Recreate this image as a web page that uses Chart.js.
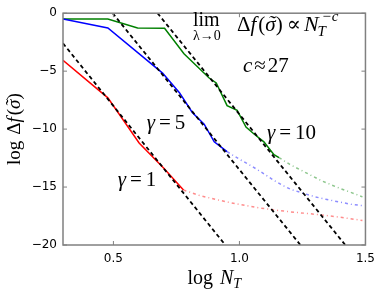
<!DOCTYPE html>
<html>
<head>
<meta charset="utf-8">
<script src="https://cdn.jsdelivr.net/npm/chart.js@4/dist/chart.umd.min.js"></script>
<style>
  html, body { margin: 0; padding: 0; background: #fff; }
  #chart { display: block; }
</style>
</head>
<body>
<canvas id="chart" width="382" height="291"></canvas>
<script>
// tick labels
const xTicks = [0.5, 1.0, 1.5]
const yTicks = [0, -5, -10, -15, -20]

// gamma = 1 (red)
const redX = [0.3, 0.478, 0.602, 0.699, 0.778]
const redY = [-4.07, -7.3, -11.2, -13.35, -15.25]
const redTailX = [0.778, 0.845, 0.903, 0.954, 1.0, 1.041, 1.079, 1.114, 1.146, 1.176, 1.204, 1.255, 1.301, 1.342, 1.398, 1.447, 1.488]
const redTailY = [-15.25, -15.75, -16.05, -16.3, -16.5, -16.65, -16.8, -16.9, -17.0, -17.07, -17.15, -17.25, -17.35, -17.45, -17.6, -17.75, -17.88]

// gamma = 5 (blue)
const blueX = [0.3, 0.478, 0.695, 0.762, 0.813, 0.86, 0.9, 0.951]
const blueY = [-0.5, -1.27, -5.17, -6.86, -8.56, -9.58, -11.1, -11.95]
const blueTailX = [0.951, 1.0, 1.041, 1.079, 1.114, 1.146, 1.176, 1.204, 1.255, 1.301, 1.342, 1.398, 1.447, 1.488]
const blueTailY = [-11.95, -12.6, -13.1, -13.6, -14.1, -14.55, -14.9, -15.2, -15.55, -15.85, -16.05, -16.3, -16.5, -16.6]

// gamma = 10 (green)
const greenX = [0.3, 0.478, 0.596, 0.703, 0.78, 0.88, 0.908, 0.951, 0.991, 1.026, 1.058, 1.097, 1.137, 1.157]
const greenY = [-0.5, -0.5, -1.27, -1.3, -3.5, -5.59, -6.02, -7.97, -8.39, -9.83, -10.42, -11.1, -12.2, -12.46]
const greenTailX = [1.157, 1.2, 1.267, 1.33, 1.397, 1.447, 1.488]
const greenTailY = [-12.46, -13.05, -13.8, -14.5, -15.1, -15.5, -15.85]

// slope -27 guides
const fit1X = [0.3, 0.944]
const fit1Y = [-2.6, -20]
const fit2X = [0.497, 1.242]
const fit2Y = [0, -20]
const fit3X = [0.675, 1.42]
const fit3Y = [0, -20]

function pts(xs, ys) {
    return xs.map((x, i) => ({x: x, y: ys[i]}));
}

function solid(xs, ys, color) {
    return {data: pts(xs, ys), borderColor: color, borderWidth: 1.5, showLine: true, pointRadius: 0, tension: 0};
}

function tail(xs, ys, color) {
    return {data: pts(xs, ys), borderColor: color, borderWidth: 1.5, borderDash: [3, 3, 1, 3], showLine: true, pointRadius: 0, tension: 0};
}

function guide(xs, ys) {
    return {data: pts(xs, ys), borderColor: '#000', borderWidth: 1.8, borderDash: [4, 3], showLine: true, pointRadius: 0};
}

const SERIF = '"Liberation Serif", "DejaVu Serif", serif';

// draw a list of text runs one after another
function runs(ctx, x, y, list) {
    let cx = x;
    list.forEach(r => {
        ctx.font = r.f;
        const w = ctx.measureText(r.t).width;
        ctx.fillText(r.t, cx, y + (r.dy || 0));
        if (r.acc) {
            const aw = ctx.measureText(r.acc).width;
            ctx.fillText(r.acc, cx + (w - aw) / 2 + 1, y + (r.dy || 0) - 1);
        }
        cx += w + (r.gap || 0);
    });
    return cx - x;
}

function runsWidth(ctx, list) {
    let w = 0;
    list.forEach(r => {
        ctx.font = r.f;
        w += ctx.measureText(r.t).width + (r.gap || 0);
    });
    return w;
}

const decor = {
    id: 'decor',
    afterDatasetsDraw(chart) {
        const ctx = chart.ctx;
        const a = chart.chartArea;
        const sx = chart.scales.x, sy = chart.scales.y;
        ctx.save();

        // frame
        ctx.strokeStyle = '#808080';
        ctx.lineWidth = 1.5;
        ctx.strokeRect(a.left, a.top, a.right - a.left, a.bottom - a.top);

        // inward ticks
        ctx.lineWidth = 1;
        ctx.beginPath();
        xTicks.forEach(v => {
            const px = sx.getPixelForValue(v);
            ctx.moveTo(px, a.bottom); ctx.lineTo(px, a.bottom - 4);
            ctx.moveTo(px, a.top); ctx.lineTo(px, a.top + 4);
        });
        yTicks.forEach(v => {
            const py = sy.getPixelForValue(v);
            ctx.moveTo(a.left, py); ctx.lineTo(a.left + 4, py);
            ctx.moveTo(a.right, py); ctx.lineTo(a.right - 4, py);
        });
        ctx.stroke();

        ctx.fillStyle = '#000';
        ctx.textBaseline = 'alphabetic';
        ctx.textAlign = 'left';

        const up = s => s + 'px ' + SERIF;
        const it = s => 'italic ' + s + 'px ' + SERIF;

        // x title
        const xt = [{t: 'log', f: up(20), gap: 7}, {t: 'N', f: it(20)}, {t: 'T', f: it(14), dy: 4}];
        runs(ctx, (a.left + a.right) / 2 - runsWidth(ctx, xt) / 2, 284, xt);

        // y title
        const yt = [{t: 'log', f: up(19), gap: 6}, {t: 'Δ', f: up(19)}, {t: 'f', f: it(19), gap: 2},
            {t: '(', f: up(19)}, {t: 'σ', f: it(19), acc: '˜'}, {t: ')', f: up(19)}];
        ctx.save();
        ctx.translate(20, (a.top + a.bottom) / 2);
        ctx.rotate(-Math.PI / 2);
        runs(ctx, -runsWidth(ctx, yt) / 2, 0, yt);
        ctx.restore();

        // gamma labels
        const g = (txt, x, y) => {
            runs(ctx, sx.getPixelForValue(x), sy.getPixelForValue(y),
                [{t: 'γ', f: it(21), gap: 4}, {t: '=', f: up(21), gap: 4}, {t: txt, f: up(21)}]);
        };
        g('5', 0.632, -10.0);
        g('1', 0.517, -14.9);
        g('10', 1.109, -10.85);

        // formula
        runs(ctx, 193, 26, [{t: 'lim', f: up(20)}]);
        runs(ctx, 193, 40, [{t: 'λ→0', f: up(14)}]);
        const w = runs(ctx, 237, 31, [
            {t: 'Δ', f: up(21)}, {t: 'f', f: it(21), gap: 2}, {t: '(', f: up(21)},
            {t: 'σ', f: it(21), acc: '˜'}, {t: ')', f: up(21), gap: 4}, {t: '∝', f: up(21), gap: 3},
            {t: 'N', f: it(22)}
        ]);
        runs(ctx, 237 + w - 1, 36, [{t: 'T', f: it(15)}]);
        runs(ctx, 237 + w + 3, 21, [{t: '−c', f: it(15)}]);
        runs(ctx, 243, 72, [{t: 'c', f: it(21), gap: 2}, {t: '≈', f: up(21), gap: 2}, {t: '27', f: up(21)}]);

        ctx.restore();
    }
};

new Chart(document.getElementById('chart'), {
    type: 'scatter',
    data: {
        datasets: [
            guide(fit1X, fit1Y),
            guide(fit2X, fit2Y),
            guide(fit3X, fit3Y),
            solid(redX, redY, '#ff0000'),
            solid(blueX, blueY, '#0000ff'),
            solid(greenX, greenY, '#008000'),
            tail(redTailX, redTailY, 'rgba(255,0,0,0.45)'),
            tail(blueTailX, blueTailY, 'rgba(0,0,255,0.45)'),
            tail(greenTailX, greenTailY, 'rgba(0,128,0,0.45)')
        ]
    },
    options: {
        responsive: false,
        devicePixelRatio: 1,
        animation: false,
        layout: {padding: {top: 9, right: 15, left: 0, bottom: 0}},
        plugins: {legend: {display: false}, tooltip: {enabled: false}},
        scales: {
            x: {
                type: 'linear', min: 0.3, max: 1.5,
                afterFit: s => { s.height = 46; },
                afterBuildTicks: s => { s.ticks = xTicks.map(v => ({value: v})); },
                grid: {display: false, drawTicks: false},
                border: {display: false},
                ticks: {
                    color: '#000', padding: 7, maxRotation: 0,
                    font: {family: '"DejaVu Sans"', size: 12},
                    callback: v => v.toFixed(1)
                }
            },
            y: {
                type: 'linear', min: -20, max: 0,
                afterFit: s => { s.width = 63; },
                afterBuildTicks: s => { s.ticks = yTicks.map(v => ({value: v})); },
                grid: {display: false, drawTicks: false},
                border: {display: false},
                ticks: {
                    color: '#000', padding: 6,
                    font: {family: '"DejaVu Sans"', size: 12},
                    callback: v => String(v).replace('-', '−')
                }
            }
        }
    },
    plugins: [decor]
});
</script>
</body>
</html>
